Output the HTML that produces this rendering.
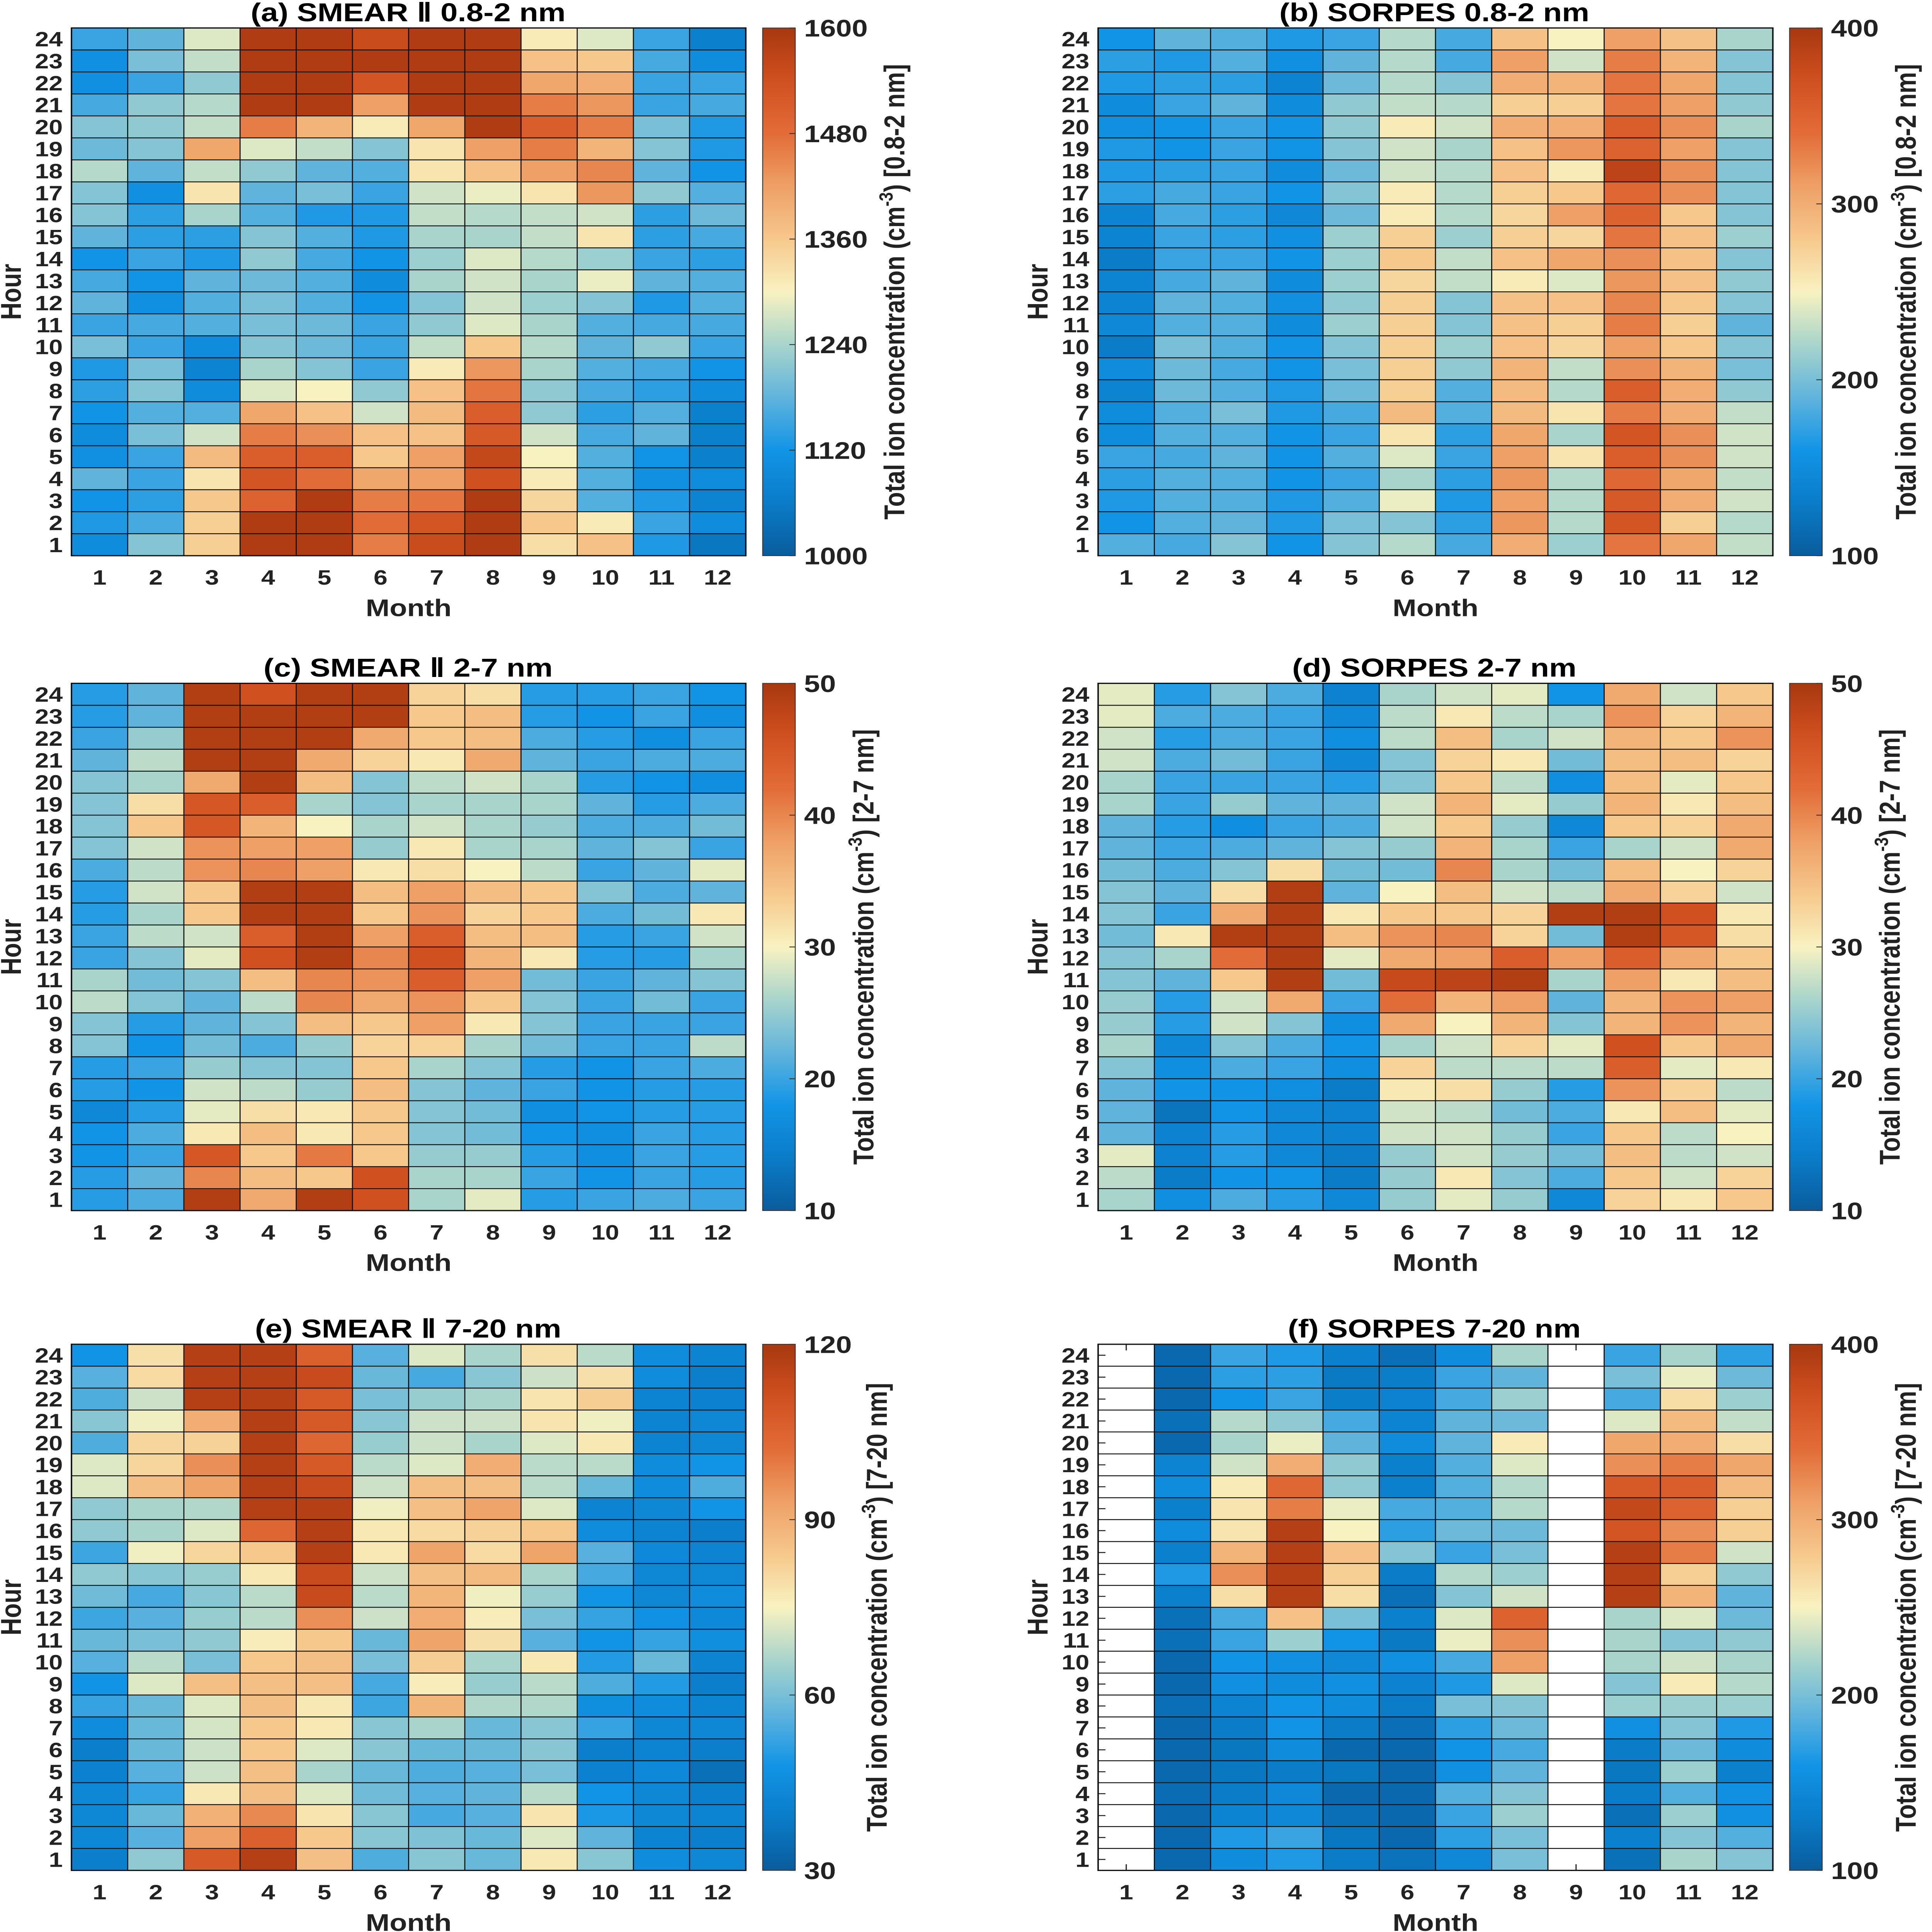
<!DOCTYPE html>
<html><head><meta charset="utf-8">
<style>
html,body{margin:0;padding:0;background:#fff;overflow:hidden;width:100vw;height:100vh;}
svg{display:block;position:absolute;left:0;top:0;width:100vw;height:100vh;}
text{font-family:"Liberation Sans Narrow","Liberation Sans",sans-serif;font-weight:bold;fill:#222;}
</style></head>
<body>
<svg id="fig" xmlns="http://www.w3.org/2000/svg" viewBox="0 0 1316 1568" preserveAspectRatio="none">
<defs>
<linearGradient id="cmap" x1="0" y1="1" x2="0" y2="0">
<stop offset="0" stop-color="#0a5c9c"/><stop offset="0.1" stop-color="#0a7cc8"/><stop offset="0.2" stop-color="#1294e6"/>
<stop offset="0.3" stop-color="#60b4dc"/><stop offset="0.4" stop-color="#a8d4cc"/><stop offset="0.5" stop-color="#f8f2c0"/>
<stop offset="0.6" stop-color="#f6c88c"/><stop offset="0.7" stop-color="#eea066"/><stop offset="0.8" stop-color="#e26c38"/>
<stop offset="0.9" stop-color="#d05020"/><stop offset="1" stop-color="#a8380f"/>
</linearGradient>
</defs>
</svg>
<script>
// Shared categories
const months = [1,2,3,4,5,6,7,8,9,10,11,12];
const hours = [24,23,22,21,20,19,18,17,16,15,14,13,12,11,10,9,8,7,6,5,4,3,2,1]; // row order top->bottom

// (a) SMEAR II 0.8-2 nm, rows hour 24..1
const concA = [
[1150,1180,1280,1590,1590,1550,1590,1590,1310,1280,1150,1070],
[1110,1200,1260,1590,1590,1590,1590,1590,1370,1360,1160,1100],
[1110,1150,1220,1590,1590,1530,1590,1590,1410,1400,1150,1150],
[1160,1220,1250,1590,1590,1420,1590,1590,1460,1430,1150,1160],
[1210,1220,1260,1460,1390,1310,1410,1590,1510,1460,1200,1130],
[1190,1210,1410,1280,1260,1210,1320,1420,1460,1390,1210,1130],
[1250,1180,1260,1220,1180,1170,1320,1370,1420,1450,1180,1120],
[1210,1110,1320,1180,1200,1150,1270,1290,1320,1430,1220,1170],
[1210,1140,1240,1170,1130,1130,1260,1250,1260,1270,1140,1190],
[1180,1140,1140,1210,1170,1130,1240,1240,1260,1320,1140,1160],
[1120,1150,1130,1220,1160,1120,1230,1280,1250,1230,1150,1140],
[1160,1120,1180,1190,1170,1100,1240,1270,1240,1290,1180,1170],
[1180,1110,1170,1200,1170,1120,1210,1270,1230,1210,1130,1170],
[1150,1160,1170,1200,1190,1150,1220,1280,1240,1170,1160,1160],
[1200,1150,1100,1210,1190,1150,1260,1360,1250,1180,1220,1150],
[1130,1200,1080,1240,1210,1150,1310,1430,1240,1170,1160,1120],
[1140,1210,1100,1280,1300,1220,1370,1470,1220,1160,1140,1100],
[1120,1170,1170,1410,1370,1270,1380,1510,1220,1140,1170,1070],
[1100,1200,1270,1460,1440,1370,1370,1520,1270,1160,1180,1070],
[1110,1150,1380,1510,1510,1360,1420,1560,1300,1170,1120,1070],
[1180,1150,1320,1530,1480,1410,1420,1540,1310,1170,1110,1100],
[1120,1140,1360,1500,1590,1460,1470,1590,1340,1170,1130,1080],
[1130,1160,1350,1590,1590,1480,1530,1590,1360,1310,1150,1100],
[1100,1210,1350,1590,1590,1460,1550,1590,1330,1370,1130,1050]];
const ticksA = [1000,1120,1240,1360,1480,1600];

// (b) SORPES 0.8-2 nm
const concB = [
[160,190,185,165,175,225,180,285,250,310,285,220],
[170,165,185,155,190,225,180,310,235,330,295,205],
[165,170,170,140,195,225,205,300,295,335,305,205],
[150,175,190,150,210,230,225,275,275,335,310,210],
[155,160,175,160,210,255,235,300,300,355,320,220],
[165,160,175,160,205,235,220,285,315,350,310,205],
[165,170,175,150,195,235,225,285,255,385,320,205],
[170,180,175,160,205,255,225,275,280,345,320,205],
[140,180,170,145,195,255,225,270,310,350,280,205],
[140,175,170,155,215,275,215,275,270,335,285,215],
[130,175,175,160,215,280,230,285,305,320,285,205],
[140,180,190,150,215,270,230,255,240,315,285,210],
[140,190,185,155,210,275,205,285,285,325,280,205],
[145,185,185,150,215,275,205,285,275,330,275,190],
[130,200,185,160,205,275,215,285,270,310,280,205],
[150,195,180,160,200,275,210,295,230,320,295,200],
[140,195,185,165,195,275,185,290,225,355,300,210],
[150,185,200,165,180,290,185,290,260,330,300,230],
[150,185,185,160,175,260,170,305,220,365,320,235],
[175,180,190,160,185,240,175,310,260,355,320,235],
[170,185,185,160,175,220,170,315,225,345,305,230],
[165,185,185,165,185,245,165,310,225,360,300,235],
[160,185,190,165,200,205,170,315,225,365,275,225],
[185,180,205,160,205,225,180,300,215,335,305,230]];
const ticksB = [100,200,300,400];

// (c) SMEAR II 2-7 nm
const concC = [
[19,22,49,46,49,49,33,32,19,19,20,18],
[19,22,49,49,49,49,34,35,19,18,20,17],
[20,25,49,49,49,37,34,35,21,19,17,20],
[22,27,49,49,37,33,31,37,22,20,21,21],
[24,26,37,49,35,24,27,28,26,19,18,17],
[24,32,45,44,26,24,26,26,26,22,19,21],
[24,34,45,36,30,26,28,26,25,21,21,23],
[24,28,39,38,38,25,31,26,26,22,24,20],
[21,27,39,40,38,31,32,30,27,20,22,29],
[19,28,34,49,49,35,38,35,34,24,21,22],
[19,26,34,49,49,34,39,33,34,21,23,31],
[20,27,28,44,49,38,44,35,35,19,20,28],
[20,24,29,46,49,40,46,36,31,19,19,26],
[26,23,24,35,40,39,44,38,23,20,22,24],
[27,24,22,27,40,37,39,34,24,20,23,20],
[24,19,22,24,35,34,38,31,24,20,20,20],
[24,18,23,21,25,33,33,26,23,20,20,27],
[19,20,25,24,24,34,26,24,19,18,20,21],
[19,18,28,27,25,35,24,22,20,18,19,19],
[16,19,29,32,31,34,24,23,17,18,19,19],
[18,21,31,35,31,34,24,23,18,17,20,19],
[18,20,45,34,41,34,25,25,19,17,20,19],
[19,22,40,35,34,46,26,26,20,18,20,19],
[19,21,49,37,49,46,26,29,19,20,21,20]];
const ticksC = [10,20,30,40,50];

// (d) SORPES 2-7 nm
const concD = [
[29,19,24,21,15,26,28,29,18,37,28,34],
[29,21,21,20,16,27,31,27,26,39,33,36],
[28,19,21,20,17,27,35,26,28,36,34,39],
[28,21,23,20,16,24,33,31,23,35,35,33],
[26,20,20,20,19,24,34,27,17,35,29,34],
[26,20,25,22,22,28,36,29,25,36,31,35],
[22,19,17,20,21,28,34,25,16,34,33,37],
[22,20,21,22,24,25,36,26,20,26,28,37],
[23,21,24,32,23,23,40,26,23,35,30,33],
[24,22,32,49,22,30,35,28,27,37,33,28],
[24,20,37,49,31,34,34,33,49,49,46,31],
[23,31,49,49,35,39,40,33,23,49,45,32],
[24,26,42,49,29,37,38,44,38,44,37,34],
[24,22,34,49,23,47,48,49,26,38,31,35],
[25,19,28,37,20,42,36,38,22,36,39,38],
[25,19,28,24,17,37,30,36,24,36,39,36],
[26,16,24,21,18,26,28,33,29,46,34,37],
[24,17,21,20,17,33,27,27,27,44,29,31],
[22,18,18,17,14,31,32,25,19,39,33,27],
[22,13,18,16,15,28,27,23,21,31,35,29],
[22,15,19,16,15,28,28,25,20,34,27,30],
[29,15,19,16,14,25,28,25,23,35,27,28],
[27,14,18,18,14,25,31,24,21,34,28,33],
[26,17,21,19,16,25,29,25,16,33,31,34]];
const ticksD = [10,20,30,40,50];

// (e) SMEAR II 7-20 nm
const concE = [
[48,79,117,117,106,56,72,66,79,68,45,42],
[56,80,117,117,113,58,54,62,70,79,45,40],
[55,70,117,117,108,60,64,66,78,83,42,41],
[62,74,90,117,108,62,70,70,78,74,42,43],
[55,81,82,117,104,64,70,66,72,77,42,43],
[72,81,96,117,108,68,72,90,68,68,45,48],
[72,86,92,117,113,70,86,86,68,58,45,55],
[63,66,67,117,117,74,86,92,72,42,43,48],
[63,66,72,104,117,77,80,82,84,45,42,40],
[53,74,81,84,117,77,92,80,92,56,44,42],
[63,62,64,77,113,70,86,87,66,54,43,43],
[59,54,62,68,113,68,88,74,64,48,43,45],
[53,56,64,68,96,70,90,76,60,52,47,44],
[58,60,63,76,84,58,92,79,56,48,52,46],
[56,68,60,84,86,60,83,66,77,50,58,42],
[48,72,86,86,86,54,76,64,68,55,50,40],
[52,58,72,86,77,53,88,67,67,46,45,42],
[45,58,71,84,77,62,66,58,62,52,43,43],
[40,58,70,84,72,62,58,58,62,40,42,40],
[41,56,70,86,66,58,55,56,60,41,44,36],
[43,52,77,86,72,59,56,57,68,48,43,40],
[43,58,89,97,78,62,54,56,78,49,43,42],
[43,56,93,106,84,62,61,58,72,57,42,40],
[40,63,108,117,86,55,62,58,77,62,45,43]];
const ticksE = [30,60,90,120];

// (f) SORPES 7-20 nm (null = no data)
const concF = [
[null,112,175,165,135,118,150,220,null,175,220,170],
[null,112,170,170,128,132,175,190,null,200,245,195],
[null,112,160,175,132,138,180,215,null,180,265,215],
[null,120,225,210,180,140,190,195,null,240,290,230],
[null,112,220,245,190,150,190,255,null,305,300,265],
[null,140,235,300,210,135,185,240,null,320,330,305],
[null,150,255,345,210,135,185,225,null,360,355,290],
[null,135,260,330,245,180,185,225,null,380,350,275],
[null,150,260,390,250,170,195,195,null,365,320,275],
[null,135,295,390,285,205,175,200,null,390,330,235],
[null,165,320,390,275,130,225,215,null,390,275,210],
[null,135,265,390,265,120,205,235,null,390,295,190],
[null,120,180,285,200,135,240,350,null,220,240,195],
[null,120,175,215,160,128,245,320,null,220,205,210],
[null,112,160,155,145,155,180,310,null,220,235,220],
[null,112,155,150,155,138,165,240,null,205,255,225],
[null,118,140,160,150,130,200,205,null,215,215,215],
[null,112,130,160,130,118,170,195,null,155,205,165],
[null,112,125,150,112,112,160,180,null,130,195,150],
[null,112,125,130,125,112,155,190,null,125,215,135],
[null,115,130,145,112,112,185,205,null,130,185,155],
[null,112,140,145,118,112,175,215,null,120,215,155],
[null,112,165,175,125,112,170,200,null,135,205,185],
[null,112,150,165,130,122,145,200,null,120,220,205]];
const ticksF = [100,200,300,400];

const stops = [[0,[10,92,156]],[0.1,[10,124,200]],[0.2,[18,148,230]],[0.3,[96,180,220]],[0.4,[168,212,204]],[0.5,[248,242,192]],[0.6,[246,200,140]],[0.7,[238,160,102]],[0.8,[226,108,56]],[0.9,[208,80,32]],[1,[168,56,15]]];
function cmap(t){
  t=Math.max(0,Math.min(1,t));
  for(let i=1;i<stops.length;i++){
    if(t<=stops[i][0]){
      const a=stops[i-1],b=stops[i],f=(t-a[0])/(b[0]-a[0]);
      const c=a[1].map((v,k)=>Math.round(v+(b[1][k]-v)*f));
      return 'rgb('+c.join(',')+')';
    }
  }
  return 'rgb(168,56,15)';
}
const NS='http://www.w3.org/2000/svg';
const svg=document.getElementById('fig');
function mk(tag,attrs,parent){const e=document.createElementNS(NS,tag);for(const k in attrs)e.setAttribute(k,attrs[k]);(parent||svg).appendChild(e);return e;}

const panels=[
 {key:'a',data:concA,ticks:ticksA,title:'(a) SMEAR \u2161 0.8-2 nm',range:'[0.8-2 nm]',x0:48.7,x1:508,y0:22.7,y1:451,cbx:519.5,lblX:616,titleX:278},
 {key:'b',data:concB,ticks:ticksB,title:'(b) SORPES 0.8-2 nm',range:'[0.8-2 nm]',x0:748,x1:1207.6,y0:22.7,y1:451,cbx:1219,lblX:1305,titleX:977},
 {key:'c',data:concC,ticks:ticksC,title:'(c) SMEAR \u2161 2-7 nm',range:'[2-7 nm]',x0:48.7,x1:508,y0:554.6,y1:982.5,cbx:519.5,lblX:595,titleX:278},
 {key:'d',data:concD,ticks:ticksD,title:'(d) SORPES 2-7 nm',range:'[2-7 nm]',x0:748,x1:1207.6,y0:554.6,y1:982.5,cbx:1219,lblX:1294,titleX:977},
 {key:'e',data:concE,ticks:ticksE,title:'(e) SMEAR \u2161 7-20 nm',range:'[7-20 nm]',x0:48.7,x1:508,y0:1091,y1:1518,cbx:519.5,lblX:604,titleX:278},
 {key:'f',data:concF,ticks:ticksF,title:'(f) SORPES 7-20 nm',range:'[7-20 nm]',x0:748,x1:1207.6,y0:1091,y1:1518,cbx:1219,lblX:1305,titleX:977}
];

panels.forEach(p=>{
  const g=mk('g',{});
  
  
  const vmin=p.ticks[0],vmax=p.ticks[p.ticks.length-1];
  const cw=(p.x1-p.x0)/months.length, ch=(p.y1-p.y0)/hours.length;
  const xs=i=>p.x0+i*cw, ys=r=>p.y0+r*ch;
  months.forEach((m,i)=>{
    const cx=xs(i)+cw/2;
    const t1=mk('line',{x1:cx,x2:cx,y1:p.y1,y2:p.y1-5,stroke:'#222','stroke-width':0.8},g);
    
    
    const t2=mk('line',{x1:cx,x2:cx,y1:p.y0,y2:p.y0+5,stroke:'#222','stroke-width':0.8},g);
    
    
  });
  hours.forEach((h,r)=>{
    const cy=ys(r)+ch/2;
    const t=mk('line',{x1:p.x0,x2:p.x0+5,y1:cy,y2:cy,stroke:'#222','stroke-width':0.8},g);
    
    
  });
  p.data.forEach((row,r)=>{
    row.forEach((v,i)=>{
      const rc=mk('rect',{x:xs(i),y:ys(r),width:cw,height:ch,
        fill: v===null?'none':cmap((v-vmin)/(vmax-vmin)),
        stroke:'#111','stroke-width':0.7},g);
      
      
    });
  });
  const fr=mk('rect',{x:p.x0,y:p.y0,width:p.x1-p.x0,height:p.y1-p.y0,fill:'none',stroke:'#111','stroke-width':1},g);
  
  
  months.forEach((m,i)=>{
    const t=mk('text',{x:xs(i)+cw/2,y:p.y1+23.5,'text-anchor':'middle','font-size':17},g);
    t.textContent=m;
    
    
  });
  hours.forEach((h,r)=>{
    const t=mk('text',{x:p.x0-6,y:ys(r)+ch/2+6,'text-anchor':'end','font-size':17},g);
    t.textContent=h;
    
    
  });
  const xt=mk('text',{x:(p.x0+p.x1)/2,y:p.y1+49,'text-anchor':'middle','font-size':19.5},g);
  xt.textContent='Month';
  
  
  const yc=(p.y0+p.y1)/2;
  const yt=mk('text',{x:p.x0-34.5,y:yc,'text-anchor':'middle','font-size':19.5,transform:'rotate(-90 '+(p.x0-34.5)+' '+yc+')'},g);
  yt.textContent='Hour';
  
  
  const tt=mk('text',{x:p.titleX,y:p.y0-5.5,'text-anchor':'middle','font-size':21,style:'fill:#000'},g);
  tt.textContent=p.title;
  
  
  const cbw=22.2;
  const cb=mk('rect',{x:p.cbx,y:p.y0,width:cbw,height:p.y1-p.y0,fill:'url(#cmap)',stroke:'#333','stroke-width':0.6},g);
  
  
  p.ticks.forEach(tv=>{
    const ty=p.y1-(tv-vmin)/(vmax-vmin)*(p.y1-p.y0);
    const ln=mk('line',{x1:p.cbx+cbw-4,x2:p.cbx+cbw,y1:ty,y2:ty,stroke:'#333','stroke-width':0.7},g);
    
    
    const lt=mk('text',{x:p.cbx+cbw+6,y:ty+7,'font-size':19.5},g);
    lt.textContent=tv;
    
    
  });
  const lbl=mk('text',{x:p.lblX,y:yc,'text-anchor':'middle','font-size':19.5,transform:'rotate(-90 '+p.lblX+' '+yc+')'},g);
  
  
  const s1=mk('tspan',{},lbl); s1.textContent='Total ion concentration (cm';
  const s2=mk('tspan',{dy:-8,'font-size':13},lbl); s2.textContent='-3';
  const s3=mk('tspan',{dy:8},lbl); s3.textContent=') '+p.range;
});
</script>
</body></html>
